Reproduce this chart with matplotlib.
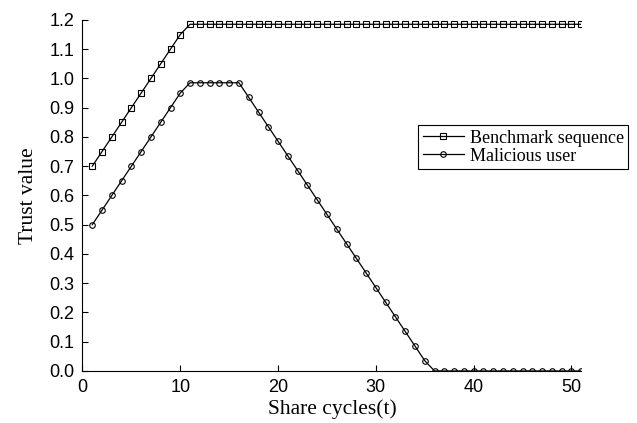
import numpy as np
import matplotlib.pyplot as plt

cycles = list(range(1, 52))
benchmark = [0.70, 0.75, 0.80, 0.85, 0.90, 0.95, 1.00, 1.05, 1.10, 1.15] + [1.185] * 41
malicious = ([0.50, 0.55, 0.60, 0.65, 0.70, 0.75, 0.80, 0.85, 0.90, 0.95]
             + [0.985] * 6
             + [0.935, 0.885, 0.835, 0.785, 0.735, 0.685, 0.635, 0.585, 0.535, 0.485,
                0.435, 0.385, 0.335, 0.285, 0.235, 0.185, 0.135, 0.085, 0.035]
             + [0.0] * 16)

fig = plt.figure(figsize=(6.37, 4.23), dpi=100)
ax = fig.add_axes([0.1295, 0.123, 0.783, 0.830])

ax.plot(cycles, benchmark, color='black', lw=0.9, marker='s', ms=4,
        mfc='none', mec='black', mew=0.8, label='Benchmark sequence')
ax.plot(cycles, malicious, color='black', lw=0.9, marker='o', ms=4,
        mfc='none', mec='black', mew=0.8, label='Malicious user')

ax.set_xlim(0, 51)
ax.set_ylim(0, 1.2)
ax.set_xticks([0, 10, 20, 30, 40, 50])
ax.set_yticks(np.arange(0, 1.21, 0.1))
ax.set_yticklabels([f'{v:.1f}' for v in np.arange(0, 1.21, 0.1)])
ax.spines['top'].set_visible(False)
ax.spines['right'].set_visible(False)
ax.tick_params(direction='in', length=4, labelsize=13, pad=6)
for lab in ax.get_xticklabels() + ax.get_yticklabels():
    lab.set_family('Liberation Sans')

ax.set_xlabel('Share cycles(t)', family='Liberation Serif', fontsize=15.5, labelpad=2)
ax.set_ylabel('Trust value', family='Liberation Serif', fontsize=15.5, labelpad=8)

leg = ax.legend(loc='upper right', bbox_to_anchor=(1.094, 0.70), fancybox=False,
                edgecolor='black', framealpha=1, handlelength=2.3, handletextpad=0.3,
                borderpad=0.25, labelspacing=0.05, borderaxespad=0,
                prop={'family': 'Liberation Serif', 'size': 13})
leg.get_frame().set_linewidth(0.8)

fig.savefig('out.png', dpi=100)
